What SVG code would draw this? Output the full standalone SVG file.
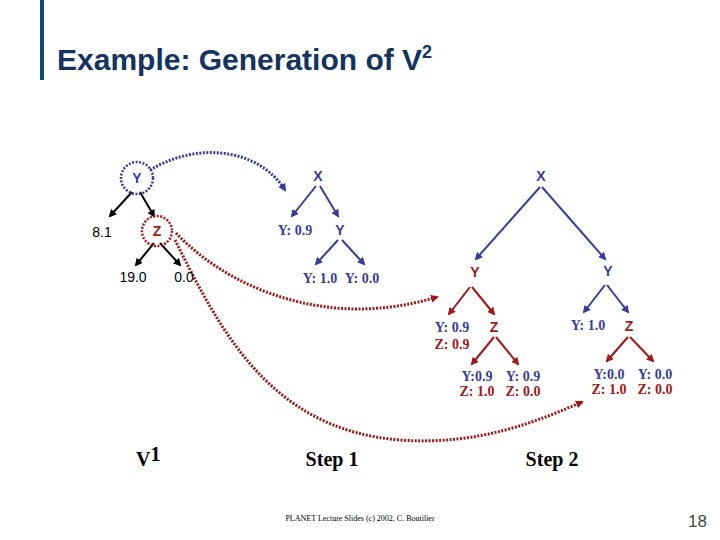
<svg xmlns="http://www.w3.org/2000/svg" width="720" height="540" viewBox="0 0 720 540">
<style>
.s{font-family:"Liberation Sans",Arial,sans-serif;font-size:14px;text-anchor:middle}
.n{font-weight:bold}
.r{font-family:"Liberation Serif","Times New Roman",serif;font-weight:bold;font-size:14px;text-anchor:middle}
.b{fill:#3a3a9e}.d{fill:#a01818}.k{fill:#000}
.lb{stroke:#3a3a9e;stroke-width:2;fill:none;marker-end:url(#ab)}
.ld{stroke:#a01818;stroke-width:2;fill:none;marker-end:url(#ad)}
.lk{stroke:#000;stroke-width:2;fill:none;marker-end:url(#ak)}
</style>
<defs>
<marker id="ab" markerWidth="8" markerHeight="8" refX="6" refY="4" orient="auto" markerUnits="userSpaceOnUse"><path d="M0,0L8,4L0,8z" fill="#3a3a9e"/></marker>
<marker id="ad" markerWidth="8" markerHeight="8" refX="6" refY="4" orient="auto" markerUnits="userSpaceOnUse"><path d="M0,0L8,4L0,8z" fill="#a01818"/></marker>
<marker id="ak" markerWidth="8" markerHeight="8" refX="6" refY="4" orient="auto" markerUnits="userSpaceOnUse"><path d="M0,0L8,4L0,8z" fill="#000"/></marker>
</defs>
<rect width="720" height="540" fill="#fff"/>
<rect x="40" y="0" width="4" height="80" fill="#0e4a72"/>
<text x="57" y="70" font-family="Liberation Sans,Arial,sans-serif" font-weight="bold" font-size="30" fill="#12345e">Example: Generation of V<tspan font-size="18" dy="-12">2</tspan></text>

<g id="connectors">
<path class="lk" d="M132,192L110,216"/><path class="lk" d="M140,192L154,216"/>
<path class="lk" d="M154,243L136,265"/><path class="lk" d="M160,243L180,265"/>
<path class="lb" d="M316,186L292,216"/><path class="lb" d="M320,186L338,216"/>
<path class="lb" d="M338,240L316,264"/><path class="lb" d="M342,240L364,264"/>
<path class="lb" d="M540,187L476,259"/><path class="lb" d="M542,187L605,259"/>
<path class="ld" d="M470,287L449,314"/><path class="ld" d="M472,287L494,314"/>
<path class="ld" d="M494,337L472,364"/><path class="ld" d="M496,337L518,364"/>
<path class="lb" d="M605,285L584,312"/><path class="lb" d="M607,285L628,312"/>
<path class="ld" d="M628,337L607,361"/><path class="ld" d="M630,337L653,361"/>
<path d="M150,170C200,140 260,150 285,190" stroke="#3a3a9e" stroke-width="3" stroke-dasharray="2,1.5" fill="none" marker-end="url(#ab)"/>
<path d="M176,233C230,290 330,330 437,297" stroke="#a01818" stroke-width="3" stroke-dasharray="2,1.5" fill="none" marker-end="url(#ad)"/>
<path d="M175,240C220,330 270,430 400,440C480,446 540,420 582,402" stroke="#a01818" stroke-width="3" stroke-dasharray="2,1.5" fill="none" marker-end="url(#ad)"/>
</g>

<g id="v1">
<circle cx="137" cy="178" r="16" fill="none" stroke="#3a3a9e" stroke-width="2.5" stroke-dasharray="2,1.5"/>
<text class="s n b" x="137" y="183">Y</text>
<text class="s k" x="102" y="237">8.1</text>
<circle cx="157" cy="231" r="15" fill="none" stroke="#a01818" stroke-width="2.5" stroke-dasharray="2,1.5"/>
<text class="s n d" x="157" y="236">Z</text>
<text class="s k" x="133" y="282">19.0</text>
<text class="s k" x="184" y="282">0.0</text>
</g>
<g id="step1">
<text class="s n b" x="318" y="181">X</text>
<text class="r b" x="295" y="235">Y: 0.9</text>
<text class="s n b" x="340" y="235">Y</text>
<text class="r b" x="320" y="283">Y: 1.0</text>
<text class="r b" x="362" y="283">Y: 0.0</text>
</g>
<g id="step2">
<text class="s n b" x="541" y="181">X</text>
<text class="s n d" x="475" y="277">Y</text>
<text class="s n b" x="608" y="276">Y</text>
<text class="r b" x="452" y="332">Y: 0.9</text>
<text class="r d" x="452" y="349">Z: 0.9</text>
<text class="s n d" x="494" y="332">Z</text>
<text class="r b" x="477" y="381">Y:0.9</text>
<text class="r d" x="477" y="396">Z: 1.0</text>
<text class="r b" x="523" y="381">Y: 0.9</text>
<text class="r d" x="523" y="396">Z: 0.0</text>
<text class="r b" x="588" y="330">Y: 1.0</text>
<text class="s n d" x="629" y="331">Z</text>
<text class="r b" x="609" y="379">Y:0.0</text>
<text class="r d" x="609" y="394">Z: 1.0</text>
<text class="r b" x="655" y="379">Y: 0.0</text>
<text class="r d" x="655" y="394">Z: 0.0</text>
</g>
<text x="136" y="466" font-family="Liberation Serif,serif" font-weight="bold" font-size="20">V<tspan dy="-5">1</tspan></text>
<text x="332" y="466" font-family="Liberation Serif,serif" font-weight="bold" font-size="20" text-anchor="middle">Step 1</text>
<text x="552" y="466" font-family="Liberation Serif,serif" font-weight="bold" font-size="20" text-anchor="middle">Step 2</text>
<text x="360" y="521" font-family="Liberation Serif,serif" font-size="8" text-anchor="middle">PLANET Lecture Slides (c) 2002, C. Boutilier</text>
<text x="707" y="527" font-family="Liberation Sans,sans-serif" font-size="17" fill="#444" text-anchor="end">18</text>
</svg>
